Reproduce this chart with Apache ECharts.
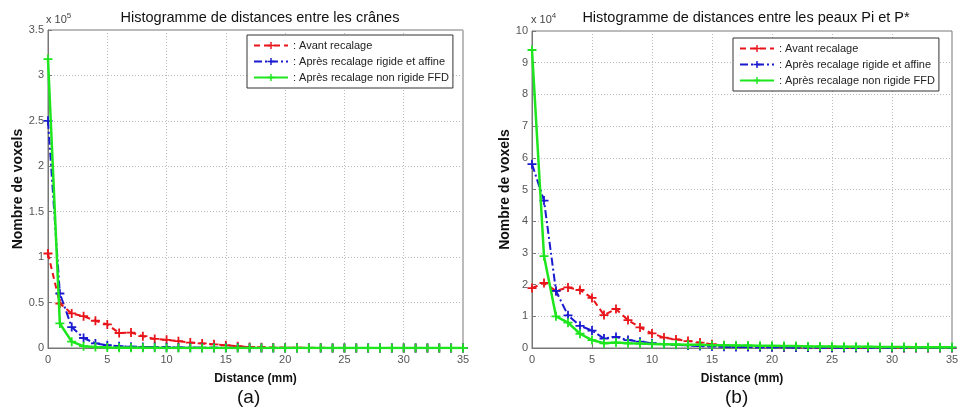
<!DOCTYPE html>
<html><head><meta charset="utf-8">
<script src="https://cdn.jsdelivr.net/npm/echarts@6/dist/echarts.min.js"></script>
<style>html,body{margin:0;padding:0;background:#fff}#c{width:964px;height:409px}</style>
</head><body><div id="c"></div>
<script>
const distances = Array.from({length:36},(_,i)=>i);
const seriesNames = ['Avant recalage','Après recalage rigide et affine','Après recalage non rigide FFD'];
// Chart (a): values in units of 1e5
const aAvant = [1.04,0.49,0.38,0.35,0.30,0.26,0.165,0.17,0.13,0.10,0.09,0.075,0.06,0.05,0.04,0.03,0.02,0.012,0.008,0.005,0.004,0.003,0.002,0.002,0.001,0.001,0.001,0.001,0,0,0,0,0,0,0,0];
const aRigide = [2.5,0.6,0.23,0.11,0.05,0.03,0.02,0.015,0.012,0.01,0.008,0.006,0.005,0.004,0.003,0.002,0.002,0.001,0.001,0.001,0.001,0.001,0.001,0.001,0.001,0.001,0.001,0,0,0,0,0,0,0,0,0];
const aFFD = [3.18,0.27,0.07,0.02,0.01,0.006,0.004,0.003,0.002,0.002,0.001,0.001,0.001,0.001,0.001,0,0,0,0,0,0,0,0,0,0,0,0,0,0,0,0,0,0,0,0,0];
// Chart (b): values in units of 1e4
const bAvant = [1.89,2.05,1.80,1.91,1.83,1.58,1.04,1.23,0.88,0.65,0.46,0.33,0.27,0.22,0.17,0.12,0.08,0.06,0.05,0.04,0.03,0.025,0.02,0.015,0.01,0.01,0.01,0.005,0.005,0.005,0,0,0,0,0,0];
const bRigide = [5.8,4.65,1.8,1.03,0.7,0.55,0.3,0.35,0.25,0.2,0.15,0.12,0.1,0.08,0.06,0.05,0.04,0.03,0.03,0.02,0.02,0.02,0.015,0.015,0.01,0.01,0.01,0.01,0.01,0.01,0.01,0.01,0.01,0.01,0.01,0.01];
const bFFD = [9.4,2.9,1.0,0.8,0.45,0.25,0.15,0.17,0.15,0.14,0.13,0.12,0.11,0.1,0.1,0.09,0.09,0.08,0.08,0.07,0.07,0.06,0.06,0.05,0.05,0.05,0.04,0.04,0.04,0.03,0.03,0.03,0.02,0.02,0.02,0.02];
const titles = ['Histogramme de distances entre les crânes','Histogramme de distances entre les peaux Pi et P*'];
const xLabel = 'Distance (mm)';
const yLabel = 'Nombre de voxels';

const FONT = 'Liberation Sans';
const plus = 'path://M-1,-5H1V-1H5V1H1V5H-1V1H-5V-1H-1Z';
const colors = ['#e8141a','#1a1ad0','#1ee61e'];
const lineTypes = [[6,4],[8,3,2,3],'solid'];

function mk(name, data, idx, k){
  return {name, type:'line', xAxisIndex:idx, yAxisIndex:idx,
    data: distances.map((d,i)=>[d,data[i]]),
    symbol: plus, symbolSize: 9, showSymbol:true,
    lineStyle:{color:colors[k], width: k===2?2.5:2, type: lineTypes[k]},
    itemStyle:{color:colors[k]}, emphasis:{disabled:true}, animation:false, z: 3+k};
}

function xAxis(idx){
  return {type:'value', gridIndex:idx, min:0, max:35, interval:5,
    name:xLabel, nameLocation:'middle', nameGap:25,
    nameTextStyle:{fontFamily:FONT, fontSize:12, color:'#111', fontWeight:'bold'},
    axisLine:{show:true, onZero:false, lineStyle:{color:'#777'}},
    axisTick:{show:true, inside:true, length:4, lineStyle:{color:'#777'}},
    axisLabel:{fontFamily:FONT, fontSize:11, color:'#555', margin:6},
    splitLine:{show:true, lineStyle:{color:'#bbb', type:[1,2]}}};
}
function yAxis(idx, max, interval, gap){
  return {type:'value', gridIndex:idx, min:0, max, interval,
    name:yLabel, nameLocation:'middle', nameGap:gap,
    nameTextStyle:{fontFamily:FONT, fontSize:14, color:'#111', fontWeight:'bold'},
    axisLine:{show:true, lineStyle:{color:'#777'}},
    axisTick:{show:true, inside:true, length:4, lineStyle:{color:'#777'}},
    axisLabel:{fontFamily:FONT, fontSize:11, color:'#555', margin:4},
    splitLine:{show:true, lineStyle:{color:'#bbb', type:[1,2]}}};
}
function legend(left, top){
  return {left, top, orient:'vertical', data:seriesNames,
    formatter: n => ': ' + n, itemWidth:34, itemHeight:9, itemGap:5,
    padding:[5,4,5,6], borderColor:'#333', borderWidth:1, backgroundColor:'#fff',
    textStyle:{fontFamily:FONT, fontSize:11, color:'#222'}, selectedMode:false};
}

const chart = echarts.init(document.getElementById('c'), null, {renderer:'canvas'});
chart.setOption({
  animation:false,
  backgroundColor:'#fff',
  title:[
    {text:titles[0], left:255, top:5, textAlign:'center', textStyle:{fontFamily:FONT, fontSize:14.5, fontWeight:'normal', color:'#111'}},
    {text:titles[1], left:741, top:5, textAlign:'center', textStyle:{fontFamily:FONT, fontSize:14.5, fontWeight:'normal', color:'#111'}}
  ],
  grid:[
    {left:48, top:30, width:415, height:318, show:true, borderColor:'#777', borderWidth:1, backgroundColor:'#fff'},
    {left:532, top:31, width:420, height:317, show:true, borderColor:'#777', borderWidth:1, backgroundColor:'#fff'}
  ],
  xAxis:[xAxis(0), xAxis(1)],
  yAxis:[yAxis(0,3.5,0.5,20), yAxis(1,10,1,16)],
  legend:[legend(247,35), legend(733,38)],
  series:[
    mk(seriesNames[0], aAvant, 0, 0), mk(seriesNames[1], aRigide, 0, 1), mk(seriesNames[2], aFFD, 0, 2),
    mk(seriesNames[0], bAvant, 1, 0), mk(seriesNames[1], bRigide, 1, 1), mk(seriesNames[2], bFFD, 1, 2)
  ],
  graphic:[
    {type:'text', left:46, top:12, style:{text:'x 10{s|5}', rich:{s:{fontSize:8, verticalAlign:'top', padding:[0,0,8,0], fontFamily:FONT, fill:'#444'}}, font:'11px "Liberation Sans"', fill:'#444'}},
    {type:'text', left:531, top:12, style:{text:'x 10{s|4}', rich:{s:{fontSize:8, verticalAlign:'top', padding:[0,0,8,0], fontFamily:FONT, fill:'#444'}}, font:'11px "Liberation Sans"', fill:'#444'}},
    {type:'text', left:237, top:388, style:{text:'(a)', font:'19px "Liberation Sans"', fill:'#111'}},
    {type:'text', left:725, top:388, style:{text:'(b)', font:'19px "Liberation Sans"', fill:'#111'}}
  ]
});
</script></body></html>
